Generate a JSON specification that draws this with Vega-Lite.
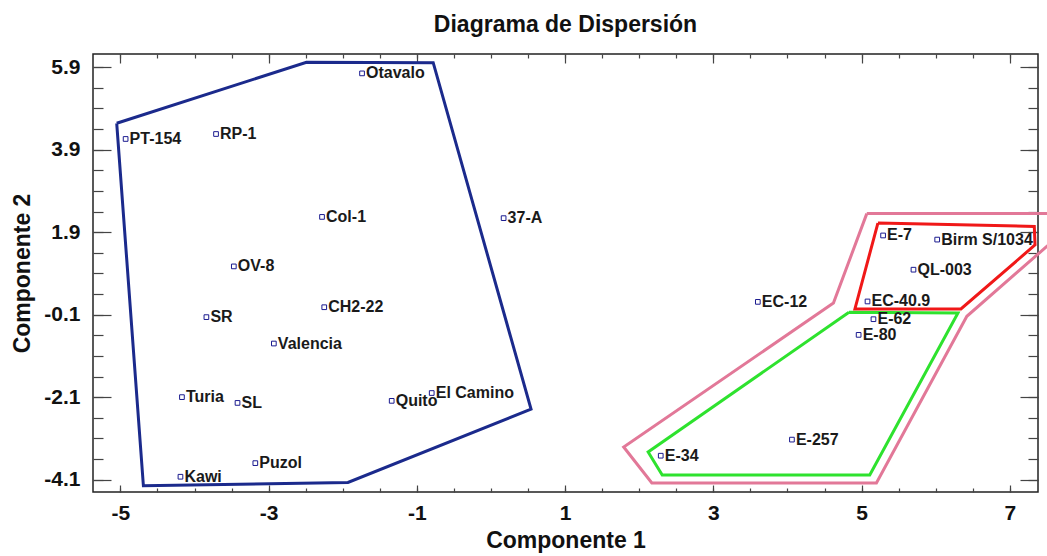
{
  "$schema": "https://vega.github.io/schema/vega-lite/v6.json",
  "width": 945,
  "height": 438,
  "padding": {"left": 93, "top": 54, "right": 9, "bottom": 64},
  "autosize": {"type": "none"},
  "background": "white",
  "config": {
    "view": {"stroke": "#222", "strokeWidth": 1.5},
    "font": "Liberation Sans"
  },
  "title": {
    "text": "Diagrama de Dispersión",
    "font": "Liberation Sans",
    "fontSize": 23,
    "fontWeight": "bold",
    "color": "#111",
    "anchor": "middle",
    "frame": "group",
    "baseline": "alphabetic",
    "offset": -2
  },
  "datasets": {
    "blue": [
      {"group": "A", "seq": 0, "x": -5.05, "y": 4.54},
      {"group": "A", "seq": 1, "x": -2.49, "y": 6.02},
      {"group": "A", "seq": 2, "x": -0.78, "y": 6.01},
      {"group": "A", "seq": 3, "x": 0.54, "y": -2.39},
      {"group": "A", "seq": 4, "x": -1.93, "y": -4.17},
      {"group": "A", "seq": 5, "x": -4.69, "y": -4.25},
      {"group": "A", "seq": 6, "x": -5.05, "y": 4.54}
    ],
    "others": [
      {"group": "P", "seq": 0, "x": 5.07, "y": 2.35},
      {"group": "P", "seq": 1, "x": 7.68, "y": 2.35},
      {"group": "P", "seq": 2, "x": 7.68, "y": 1.84},
      {"group": "P", "seq": 3, "x": 6.42, "y": -0.14},
      {"group": "P", "seq": 4, "x": 5.2, "y": -4.18},
      {"group": "P", "seq": 5, "x": 2.17, "y": -4.18},
      {"group": "P", "seq": 6, "x": 1.79, "y": -3.31},
      {"group": "P", "seq": 7, "x": 4.62, "y": 0.18},
      {"group": "P", "seq": 8, "x": 5.07, "y": 2.35},
      {"group": "G", "seq": 0, "x": 4.83, "y": -0.04},
      {"group": "G", "seq": 1, "x": 6.3, "y": -0.06},
      {"group": "G", "seq": 2, "x": 5.11, "y": -3.99},
      {"group": "G", "seq": 3, "x": 2.31, "y": -3.99},
      {"group": "G", "seq": 4, "x": 2.12, "y": -3.43},
      {"group": "G", "seq": 5, "x": 4.83, "y": -0.04},
      {"group": "R", "seq": 0, "x": 5.22, "y": 2.12},
      {"group": "R", "seq": 1, "x": 7.33, "y": 2.04},
      {"group": "R", "seq": 2, "x": 7.34, "y": 1.59},
      {"group": "R", "seq": 3, "x": 6.34, "y": 0.04},
      {"group": "R", "seq": 4, "x": 4.91, "y": 0.04},
      {"group": "R", "seq": 5, "x": 5.22, "y": 2.12}
    ],
    "points": [
      {"name": "Otavalo", "x": -1.74, "y": 5.75},
      {"name": "PT-154", "x": -4.93, "y": 4.16},
      {"name": "RP-1", "x": -3.71, "y": 4.28},
      {"name": "Col-1", "x": -2.28, "y": 2.27},
      {"name": "OV-8", "x": -3.47, "y": 1.07},
      {"name": "37-A", "x": 0.17, "y": 2.24},
      {"name": "SR", "x": -3.84, "y": -0.16},
      {"name": "CH2-22", "x": -2.25, "y": 0.08},
      {"name": "Valencia", "x": -2.93, "y": -0.8},
      {"name": "Turia", "x": -4.17, "y": -2.1},
      {"name": "SL", "x": -3.42, "y": -2.24},
      {"name": "Quito", "x": -1.34, "y": -2.19},
      {"name": "El Camino", "x": -0.8, "y": -2.0},
      {"name": "Puzol", "x": -3.18, "y": -3.7},
      {"name": "Kawi", "x": -4.19, "y": -4.03},
      {"name": "E-7", "x": 5.29, "y": 1.82},
      {"name": "Birm S/1034", "x": 6.02, "y": 1.72},
      {"name": "QL-003", "x": 5.7, "y": 0.99},
      {"name": "EC-12", "x": 3.6, "y": 0.21},
      {"name": "EC-40.9", "x": 5.08, "y": 0.22},
      {"name": "E-62", "x": 5.16, "y": -0.21},
      {"name": "E-80", "x": 4.96, "y": -0.59},
      {"name": "E-257", "x": 4.06, "y": -3.13},
      {"name": "E-34", "x": 2.29, "y": -3.52}
    ]
  },
  "resolve": {"axis": {"x": "independent", "y": "independent"}},
  "layer": [
    {
      "data": {"name": "blue"},
      "mark": {"type": "line", "strokeWidth": 3, "clip": false},
      "encoding": {
        "x": {
          "field": "x", "type": "quantitative",
          "scale": {"domain": [-5.37, 7.38], "nice": false, "zero": false},
          "axis": {
            "orient": "bottom", "values": [-5, -3, -1, 1, 3, 5, 7],
            "labelExpr": "replace(datum.label, '\u2212', '-')",
            "tickSize": -7, "tickColor": "#444", "tickWidth": 1.2,
            "labelPadding": 17, "labelFont": "Liberation Sans", "labelFontWeight": "bold",
            "labelFontSize": 21, "labelColor": "#111", "labelFlush": false, "labelOverlap": false,
            "domain": false, "grid": false,
            "title": "Componente 1", "titleFont": "Liberation Sans", "titleFontSize": 23,
            "titleFontWeight": "bold", "titleColor": "#111", "titlePadding": 6
          }
        },
        "y": {
          "field": "y", "type": "quantitative",
          "scale": {"domain": [-4.4, 6.22], "nice": false, "zero": false},
          "axis": {
            "orient": "left", "values": [-4.1, -2.1, -0.1, 1.9, 3.9, 5.9], "format": ".1f",
            "labelExpr": "replace(datum.label, '\u2212', '-')",
            "tickSize": -18, "tickColor": "#444", "tickWidth": 1.2,
            "labelPadding": 31, "labelFont": "Liberation Sans", "labelFontWeight": "bold",
            "labelFontSize": 21, "labelColor": "#111", "labelFlush": false, "labelOverlap": false,
            "domain": false, "grid": false,
            "title": "Componente 2", "titleFont": "Liberation Sans", "titleFontSize": 23,
            "titleFontWeight": "bold", "titleColor": "#111", "titlePadding": 9
          }
        },
        "order": {"field": "seq", "type": "quantitative"},
        "detail": {"field": "group"},
        "color": {
          "field": "group", "type": "nominal", "legend": null,
          "scale": {"domain": ["A", "P", "G", "R"], "range": ["#1b2a8c", "#e27898", "#2ee22e", "#f01818"]}
        }
      }
    },
    {
      "data": {"name": "others"},
      "mark": {"type": "line", "strokeWidth": 3, "clip": false},
      "encoding": {
        "x": {
          "field": "x", "type": "quantitative",
          "axis": {
            "orient": "top", "values": [-5, -3, -1, 1, 3, 5, 7],
            "tickSize": -9, "tickColor": "#444", "tickWidth": 1.2,
            "labels": false, "domain": false, "grid": false, "title": null
          }
        },
        "y": {
          "field": "y", "type": "quantitative",
          "axis": {
            "orient": "right", "values": [-4.1, -2.1, -0.1, 1.9, 3.9, 5.9],
            "tickSize": -18, "tickColor": "#444", "tickWidth": 1.2,
            "labels": false, "domain": false, "grid": false, "title": null
          }
        },
        "order": {"field": "seq", "type": "quantitative"},
        "detail": {"field": "group"},
        "color": {"field": "group", "type": "nominal", "legend": null}
      }
    },
    {
      "data": {"name": "points"},
      "mark": {"type": "point", "shape": "square", "filled": false, "size": 22, "strokeWidth": 1, "color": "#1b1b8f", "opacity": 1},
      "encoding": {
        "x": {
          "field": "x", "type": "quantitative",
          "axis": {
            "orient": "bottom",
            "values": [-5, -4.5, -4, -3.5, -3, -2.5, -2, -1.5, -1, -0.5, 0, 0.5, 1, 1.5, 2, 2.5, 3, 3.5, 4, 4.5, 5, 5.5, 6, 6.5, 7],
            "tickSize": -4, "tickColor": "#444", "tickWidth": 1.2,
            "labels": false, "domain": false, "grid": false, "title": null
          }
        },
        "y": {
          "field": "y", "type": "quantitative",
          "axis": {
            "orient": "left",
            "values": [-4.1, -3.6, -3.1, -2.6, -2.1, -1.6, -1.1, -0.6, -0.1, 0.4, 0.9, 1.4, 1.9, 2.4, 2.9, 3.4, 3.9, 4.4, 4.9, 5.4, 5.9],
            "tickSize": -10, "tickColor": "#444", "tickWidth": 1.2,
            "labels": false, "domain": false, "grid": false, "title": null
          }
        }
      }
    },
    {
      "data": {"name": "points"},
      "mark": {"type": "text", "align": "left", "baseline": "middle", "dx": 4, "font": "Liberation Sans", "fontWeight": "bold", "fontSize": 16, "color": "#1a1a1a"},
      "encoding": {
        "x": {
          "field": "x", "type": "quantitative",
          "axis": {
            "orient": "top",
            "values": [-5, -4.5, -4, -3.5, -3, -2.5, -2, -1.5, -1, -0.5, 0, 0.5, 1, 1.5, 2, 2.5, 3, 3.5, 4, 4.5, 5, 5.5, 6, 6.5, 7],
            "tickSize": -4, "tickColor": "#444", "tickWidth": 1.2,
            "labels": false, "domain": false, "grid": false, "title": null
          }
        },
        "y": {
          "field": "y", "type": "quantitative",
          "axis": {
            "orient": "right",
            "values": [-4.1, -3.6, -3.1, -2.6, -2.1, -1.6, -1.1, -0.6, -0.1, 0.4, 0.9, 1.4, 1.9, 2.4, 2.9, 3.4, 3.9, 4.4, 4.9, 5.4, 5.9],
            "tickSize": -10, "tickColor": "#444", "tickWidth": 1.2,
            "labels": false, "domain": false, "grid": false, "title": null
          }
        },
        "text": {"field": "name", "type": "nominal"}
      }
    }
  ]
}
